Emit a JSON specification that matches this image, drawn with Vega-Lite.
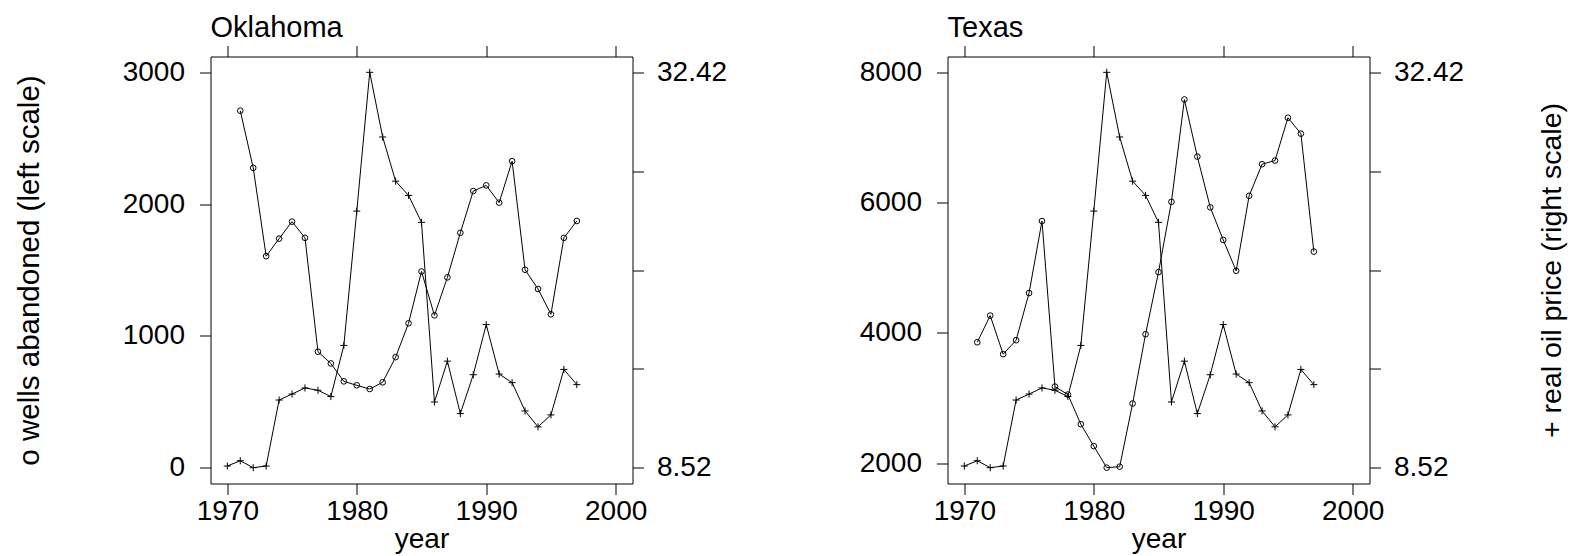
{
  "$schema": "https://vega.github.io/schema/vega-lite/v6.json",
  "padding": {"left": 13.5, "top": 12.5, "right": 0, "bottom": 0},
  "background": "white",
  "data": {"values": [
    {"state":"Oklahoma","year":1970,"wells":null,"price":8.62},
    {"state":"Oklahoma","year":1971,"wells":2709,"price":8.94},
    {"state":"Oklahoma","year":1972,"wells":2275,"price":8.52},
    {"state":"Oklahoma","year":1973,"wells":1605,"price":8.62},
    {"state":"Oklahoma","year":1974,"wells":1738,"price":12.61},
    {"state":"Oklahoma","year":1975,"wells":1867,"price":12.97},
    {"state":"Oklahoma","year":1976,"wells":1744,"price":13.34},
    {"state":"Oklahoma","year":1977,"wells":880,"price":13.20},
    {"state":"Oklahoma","year":1978,"wells":791,"price":12.82},
    {"state":"Oklahoma","year":1979,"wells":655,"price":15.91},
    {"state":"Oklahoma","year":1980,"wells":625,"price":24.03},
    {"state":"Oklahoma","year":1981,"wells":597,"price":32.42},
    {"state":"Oklahoma","year":1982,"wells":648,"price":28.51},
    {"state":"Oklahoma","year":1983,"wells":839,"price":25.84},
    {"state":"Oklahoma","year":1984,"wells":1096,"price":24.98},
    {"state":"Oklahoma","year":1985,"wells":1489,"price":23.35},
    {"state":"Oklahoma","year":1986,"wells":1156,"price":12.49},
    {"state":"Oklahoma","year":1987,"wells":1444,"price":14.96},
    {"state":"Oklahoma","year":1988,"wells":1782,"price":11.79},
    {"state":"Oklahoma","year":1989,"wells":2099,"price":14.14},
    {"state":"Oklahoma","year":1990,"wells":2142,"price":17.17},
    {"state":"Oklahoma","year":1991,"wells":2011,"price":14.18},
    {"state":"Oklahoma","year":1992,"wells":2326,"price":13.66},
    {"state":"Oklahoma","year":1993,"wells":1502,"price":11.95},
    {"state":"Oklahoma","year":1994,"wells":1356,"price":10.99},
    {"state":"Oklahoma","year":1995,"wells":1164,"price":11.71},
    {"state":"Oklahoma","year":1996,"wells":1744,"price":14.46},
    {"state":"Oklahoma","year":1997,"wells":1872,"price":13.54},
    {"state":"Texas","year":1970,"wells":null,"price":8.62},
    {"state":"Texas","year":1971,"wells":3858,"price":8.94},
    {"state":"Texas","year":1972,"wells":4267,"price":8.52},
    {"state":"Texas","year":1973,"wells":3675,"price":8.62},
    {"state":"Texas","year":1974,"wells":3889,"price":12.61},
    {"state":"Texas","year":1975,"wells":4613,"price":12.97},
    {"state":"Texas","year":1976,"wells":5718,"price":13.34},
    {"state":"Texas","year":1977,"wells":3177,"price":13.20},
    {"state":"Texas","year":1978,"wells":3055,"price":12.82},
    {"state":"Texas","year":1979,"wells":2600,"price":15.91},
    {"state":"Texas","year":1980,"wells":2264,"price":24.03},
    {"state":"Texas","year":1981,"wells":1933,"price":32.42},
    {"state":"Texas","year":1982,"wells":1948,"price":28.51},
    {"state":"Texas","year":1983,"wells":2917,"price":25.84},
    {"state":"Texas","year":1984,"wells":3981,"price":24.98},
    {"state":"Texas","year":1985,"wells":4934,"price":23.35},
    {"state":"Texas","year":1986,"wells":6013,"price":12.49},
    {"state":"Texas","year":1987,"wells":7583,"price":14.96},
    {"state":"Texas","year":1988,"wells":6707,"price":11.79},
    {"state":"Texas","year":1989,"wells":5928,"price":14.14},
    {"state":"Texas","year":1990,"wells":5428,"price":17.17},
    {"state":"Texas","year":1991,"wells":4954,"price":14.18},
    {"state":"Texas","year":1992,"wells":6105,"price":13.66},
    {"state":"Texas","year":1993,"wells":6590,"price":11.95},
    {"state":"Texas","year":1994,"wells":6646,"price":10.99},
    {"state":"Texas","year":1995,"wells":7303,"price":11.71},
    {"state":"Texas","year":1996,"wells":7059,"price":14.46},
    {"state":"Texas","year":1997,"wells":5249,"price":13.54}
  ]},
  "spacing": 131,
  "hconcat": [
    {
      "title": {"text": "Oklahoma", "anchor": "start", "frame": "group", "fontSize": 29, "fontWeight": "normal", "offset": 2.5, "color": "black", "font": "Liberation Sans"},
      "width": 422, "height": 427,
      "transform": [{"filter": "datum.state === 'Oklahoma'"}],
      "layer": [
        {
          "encoding": {
            "x": {"field": "year", "type": "quantitative", "scale": {"domain": [1968.7, 2001.3], "nice": false, "zero": false},
                  "axis": {"orient": "bottom", "values": [1970, 1980, 1990, 2000], "format": "d", "title": "year", "labelPadding": 3, "titlePadding": 0}},
            "y": {"field": "wells", "type": "quantitative", "scale": {"domain": [-120, 3120], "nice": false, "zero": false},
                  "axis": {"orient": "left", "values": [0, 1000, 2000, 3000], "format": "d", "title": "o  wells abandoned (left scale)", "titleFontSize": 29.5, "titlePadding": 77.5, "labelPadding": 15}}
          },
          "layer": [
            {"mark": {"type": "line", "color": "black", "strokeWidth": 1}},
            {"mark": {"type": "point", "shape": "circle", "filled": false, "size": 32, "color": "black", "strokeWidth": 1, "opacity": 1}}
          ]
        },
        {
          "encoding": {
            "x": {"field": "year", "type": "quantitative",
                  "axis": {"orient": "top", "values": [1970, 1980, 1990, 2000], "labels": false, "title": null}},
            "y": {"field": "price", "type": "quantitative", "scale": {"domain": [7.564, 33.376], "nice": false, "zero": false},
                  "axis": {"orient": "right", "values": [8.52, 14.495, 20.47, 26.445, 32.42], "format": ".2f", "labelExpr": "datum.value < 9 || datum.value > 32 ? datum.label : ''", "title": null, "labelPadding": 13}}
          },
          "layer": [
            {"mark": {"type": "line", "color": "black", "strokeWidth": 1}},
            {"mark": {"type": "point", "shape": "M-1,0H1M0,-1V1", "filled": false, "size": 50, "color": "black", "strokeWidth": 1, "opacity": 1}}
          ]
        }
      ],
      "resolve": {"scale": {"y": "independent"}, "axis": {"x": "independent"}}
    },
    {
      "title": {"text": "Texas", "anchor": "start", "frame": "group", "fontSize": 29, "fontWeight": "normal", "offset": 2.5, "color": "black", "font": "Liberation Sans"},
      "width": 422, "height": 427,
      "transform": [{"filter": "datum.state === 'Texas'"}],
      "layer": [
        {
          "encoding": {
            "x": {"field": "year", "type": "quantitative", "scale": {"domain": [1968.7, 2001.3], "nice": false, "zero": false},
                  "axis": {"orient": "bottom", "values": [1970, 1980, 1990, 2000], "format": "d", "title": "year", "labelPadding": 3, "titlePadding": 0}},
            "y": {"field": "wells", "type": "quantitative", "scale": {"domain": [1690, 8243], "nice": false, "zero": false},
                  "axis": {"orient": "left", "values": [2000, 4000, 6000, 8000], "format": "d", "title": null, "labelPadding": 15}}
          },
          "layer": [
            {"mark": {"type": "line", "color": "black", "strokeWidth": 1}},
            {"mark": {"type": "point", "shape": "circle", "filled": false, "size": 32, "color": "black", "strokeWidth": 1, "opacity": 1}}
          ]
        },
        {
          "encoding": {
            "x": {"field": "year", "type": "quantitative",
                  "axis": {"orient": "top", "values": [1970, 1980, 1990, 2000], "labels": false, "title": null}},
            "y": {"field": "price", "type": "quantitative", "scale": {"domain": [7.564, 33.376], "nice": false, "zero": false},
                  "axis": {"orient": "right", "values": [8.52, 14.495, 20.47, 26.445, 32.42], "format": ".2f", "labelExpr": "datum.value < 9 || datum.value > 32 ? datum.label : ''", "title": "+  real oil price (right scale)", "titleFontSize": 28.5, "titleAngle": 270, "titlePadding": 103, "labelPadding": 13}}
          },
          "layer": [
            {"mark": {"type": "line", "color": "black", "strokeWidth": 1}},
            {"mark": {"type": "point", "shape": "M-1,0H1M0,-1V1", "filled": false, "size": 50, "color": "black", "strokeWidth": 1, "opacity": 1}}
          ]
        }
      ],
      "resolve": {"scale": {"y": "independent"}, "axis": {"x": "independent"}}
    }
  ],
  "config": {
    "font": "Liberation Sans",
    "view": {"stroke": "black", "strokeWidth": 1},
    "axis": {
      "domain": false, "grid": false,
      "tickColor": "black", "tickSize": 11, "tickWidth": 1,
      "labelFontSize": 28, "labelColor": "black", "labelFont": "Liberation Sans",
      "titleFontSize": 28, "titleColor": "black", "titleFontWeight": "normal", "titleFont": "Liberation Sans"
    }
  }
}
